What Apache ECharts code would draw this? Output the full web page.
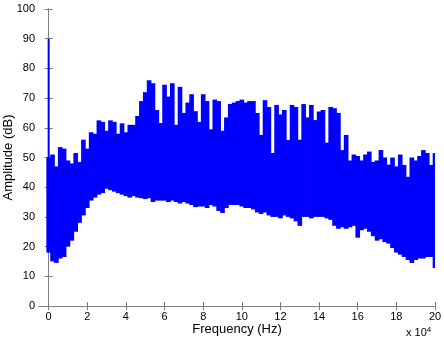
<!DOCTYPE html>
<html>
<head>
<meta charset="utf-8">
<script src="https://cdn.jsdelivr.net/npm/echarts@6/dist/echarts.min.js"></script>
<style>
  html, body { margin: 0; padding: 0; background: #fff; }
  #chart { width: 444px; height: 342px; }
</style>
</head>
<body>
<div id="chart"></div>
<script>
// frequency in units of 10^4 Hz
const freq = [
  0, 0.2, 0.4, 0.6, 0.8, 1, 1.2, 1.4, 1.6, 1.8,
  2, 2.2, 2.4, 2.6, 2.8, 3, 3.2, 3.4, 3.6, 3.8,
  4, 4.2, 4.4, 4.6, 4.8, 5, 5.2, 5.4, 5.6, 5.8,
  6, 6.2, 6.4, 6.6, 6.8, 7, 7.2, 7.4, 7.6, 7.8,
  8, 8.2, 8.4, 8.6, 8.8, 9, 9.2, 9.4, 9.6, 9.8,
  10, 10.2, 10.4, 10.6, 10.8, 11, 11.2, 11.4, 11.6, 11.8,
  12, 12.2, 12.4, 12.6, 12.8, 13, 13.2, 13.4, 13.6, 13.8,
  14, 14.2, 14.4, 14.6, 14.8, 15, 15.2, 15.4, 15.6, 15.8,
  16, 16.2, 16.4, 16.6, 16.8, 17, 17.2, 17.4, 17.6, 17.8,
  18, 18.2, 18.4, 18.6, 18.8, 19, 19.2, 19.4, 19.6, 19.8,
  20
]
// upper / lower envelope of the amplitude (dB)
const upper = [
  50, 51, 47, 53.5, 53, 49, 48, 51.5, 48.5, 56,
  53, 58.5, 58, 62.5, 62, 59, 62.5, 62, 58, 61.5,
  58.5, 61, 61, 64, 69, 72, 76, 75, 66, 61.6,
  74.5, 70.5, 75, 61, 73.8, 65, 68.5, 71.3, 65.6, 62,
  71.3, 69, 59.5, 69.5, 69, 59, 63.5, 68, 68.5, 69,
  69.5, 68.5, 69, 69, 65, 57.6, 69.3, 67, 51.5, 67.7,
  64.5, 66, 55.9, 67.7, 67, 56, 68, 63.5, 67.7, 62.6,
  65.5, 66, 55, 67, 66.6, 65, 52.5, 57.6, 49, 51,
  50.5, 49, 51, 52, 48.5, 49, 52.5, 50, 47.6, 50,
  47, 51, 47.5, 43.5, 50, 49, 50.5, 52.5, 51.5, 47.5,
  51.5
]
const lower = [
  18, 15, 14.5, 16, 16.5, 20, 22, 25, 28, 30.5,
  33, 35.5, 36.5, 37.5, 38, 39.5, 39, 38.5, 38, 37.5,
  37, 36.5, 37, 36.5, 36.3, 36, 36.3, 35, 35.5, 35.5,
  35.5, 35, 35.5, 35, 34.5, 35, 34.5, 34, 33.3, 33.5,
  33.5, 33, 34, 33.5, 32, 31.3, 33, 34, 34, 34,
  33.5, 33, 33, 32.5, 31.5, 31, 31.5, 30.5, 30, 30,
  29.5, 30.5, 30, 29.5, 28.5, 27, 30, 30, 29.5, 30,
  30, 30, 29.5, 29, 27, 26, 26.5, 26, 26.5, 27,
  23, 25.5, 26, 25, 23.5, 22, 22.5, 21.5, 21, 19.5,
  18, 17.3, 16.5, 15.5, 14.5, 15.5, 16, 16, 16.5, 16.5,
  12.8
]
const peakFreq = 0
const peakAmp = 90
const xTicks = [0, 2, 4, 6, 8, 10, 12, 14, 16, 18, 20]

const spectrum = freq.map((f, i) => [f, lower[i], upper[i]])

const axisColor = '#7f7f7f'
const font = 'Liberation Sans, Arial, Helvetica, sans-serif'

let myChart = echarts.init(document.getElementById('chart'))
myChart.setOption({
  animation: false,
  grid: { left: 39, right: 9, top: 9, bottom: 36, containLabel: false, outerBoundsMode: 'none' },
  xAxis: [
    {
      type: 'value',
      position: 'bottom',
      min: -0.5,
      max: 20,
      name: 'Frequency (Hz)',
      nameLocation: 'middle',
      nameGap: 17,
      nameMoveOverlap: false,
      nameTextStyle: { color: '#000', fontSize: 13, fontFamily: font },
      axisLine: { show: true, lineStyle: { color: axisColor } },
      axisTick: { show: true, inside: true, length: 4, customValues: xTicks, lineStyle: { color: axisColor } },
      axisLabel: { customValues: xTicks, color: '#000', fontSize: 11, fontFamily: font, margin: 5 },
      splitLine: { show: false }
    },
    {
      type: 'value',
      position: 'top',
      min: -0.5,
      max: 20,
      axisLine: { show: true, lineStyle: { color: axisColor } },
      axisTick: { show: true, inside: true, length: 4, customValues: xTicks, lineStyle: { color: axisColor } },
      axisLabel: { show: false },
      splitLine: { show: false }
    }
  ],
  yAxis: [
    {
      type: 'value',
      position: 'left',
      min: 0,
      max: 100,
      interval: 10,
      name: 'Amplitude (dB)',
      nameLocation: 'middle',
      nameGap: 24,
      nameMoveOverlap: false,
      nameTextStyle: { color: '#000', fontSize: 13, fontFamily: font },
      axisLine: { show: true, lineStyle: { color: axisColor } },
      axisTick: { show: true, inside: true, length: 4, lineStyle: { color: axisColor } },
      axisLabel: { color: '#000', fontSize: 11, fontFamily: font, margin: 4 },
      splitLine: { show: false }
    },
    {
      type: 'value',
      position: 'right',
      min: 0,
      max: 100,
      interval: 10,
      axisLine: { show: true, lineStyle: { color: axisColor } },
      axisTick: { show: true, inside: true, length: 4, lineStyle: { color: axisColor } },
      axisLabel: { show: false },
      splitLine: { show: false }
    }
  ],
  graphic: [
    {
      type: 'text',
      left: 406,
      top: 326,
      style: {
        text: 'x 10{s|4}',
        fill: '#000',
        font: '11px ' + font,
        rich: { s: { fontSize: 8, verticalAlign: 'top', padding: [0, 0, 6, 0] } }
      }
    }
  ],
  series: [
    {
      type: 'custom',
      xAxisIndex: 0,
      yAxisIndex: 0,
      clip: true,
      data: spectrum,
      renderItem: function (params, api) {
        let x = api.value(0)
        let p0 = api.coord([x - 0.12, api.value(1)])
        let p1 = api.coord([x + 0.12, api.value(2)])
        return {
          type: 'rect',
          shape: { x: p0[0], y: p1[1], width: p1[0] - p0[0], height: p0[1] - p1[1] },
          style: { fill: '#0000ff' }
        }
      }
    },
    {
      type: 'line',
      xAxisIndex: 0,
      yAxisIndex: 0,
      symbol: 'none',
      lineStyle: { color: '#0000ff', width: 2 },
      data: [[peakFreq, lower[0]], [peakFreq, peakAmp]]
    }
  ]
})
</script>
</body>
</html>
